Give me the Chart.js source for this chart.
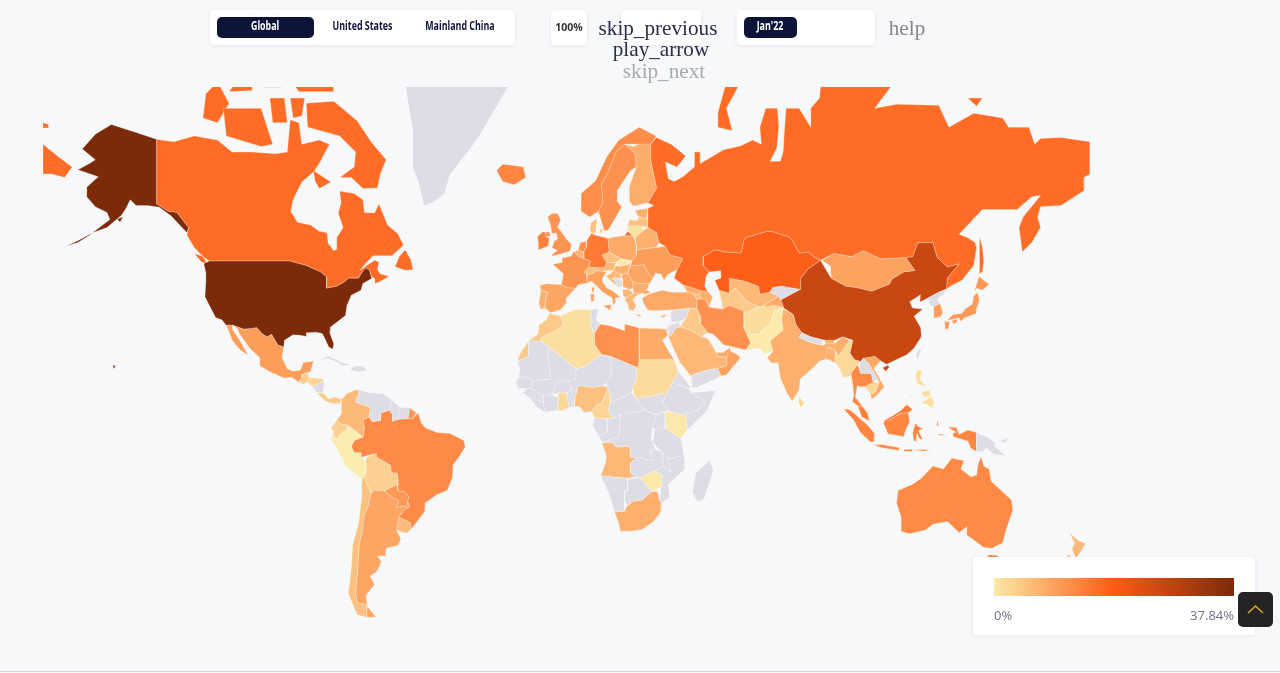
<!DOCTYPE html>
<html><head><meta charset="utf-8">
<script src="https://cdn.jsdelivr.net/npm/chart.js@4"></script>
<style>
html,body{margin:0;padding:0;width:1280px;height:673px;overflow:hidden;background:#f7f8fa}
#map{position:absolute;left:0;top:0}
.panel{position:absolute;background:#fff;border-radius:4px;box-shadow:0 1px 5px rgba(30,35,70,.08)}
.pill{position:absolute;height:21px;line-height:20px;text-align:center;border-radius:5px;font:700 12px "Open Sans",sans-serif;color:#10173c;white-space:nowrap}
.pill span{display:inline-block;transform:scaleX(.74)}
.pill.on{background:#0c1438;color:#fff}
.ic{position:absolute;font-family:"Liberation Serif",serif;font-size:21.2px;line-height:22px;transform:translateX(-50%);white-space:nowrap}
.foot{position:absolute;top:606px;font:13px "Open Sans",sans-serif;color:#6f7284}
</style></head><body>
<canvas id="map" width="1280" height="673"></canvas>
<div class="panel" style="left:210px;top:10px;width:305px;height:35px"></div>
<div class="pill on" style="left:217px;top:17px;width:97px"><span>Global</span></div>
<div class="pill" style="left:318px;top:17px;width:88px"><span>United States</span></div>
<div class="pill" style="left:412px;top:17px;width:95px"><span>Mainland China</span></div>
<div class="panel" style="left:551px;top:10px;width:36px;height:35px"></div>
<div class="pill" style="left:551px;top:17px;width:36px;font:700 10.5px 'Open Sans',sans-serif;line-height:21px;color:#333">100%</div>
<div class="panel" style="left:621px;top:10px;width:80px;height:35px"></div>
<div class="ic" style="left:658px;top:17px;color:#2c2e48">skip_previous</div>
<div class="ic" style="left:661px;top:38px;color:#2c2e48">play_arrow</div>
<div class="ic" style="left:664px;top:60px;color:#a8aab3">skip_next</div>
<div class="panel" style="left:737px;top:10px;width:138px;height:35px"></div>
<div class="pill on" style="left:744px;top:17px;width:53px"><span>Jan'22</span></div>
<div class="ic" style="left:907px;top:17px;color:#85868f">help</div>
<div class="panel" style="left:973px;top:557px;width:282px;height:78px"></div>
<div style="position:absolute;left:994px;top:578px;width:240px;height:18px;background:linear-gradient(90deg,#fbe9a6 0%,#ff5b14 50%,#7b2a0a 100%)"></div>
<div class="foot" style="left:994px">0%</div>
<div class="foot" style="right:46px">37.84%</div>
<div style="position:absolute;left:1238px;top:592px;width:35px;height:35px;background:#242424;border-radius:5px">
<svg width="35" height="35"><polyline points="10,21 17.5,14 25,21" fill="none" stroke="#dba52c" stroke-width="1.6"/></svg></div>
<div style="position:absolute;left:0;top:671px;width:1280px;height:1px;background:#d3d4da"></div>
<script>
// Outlines in [longitude, latitude]
const alaska=[[-141,69.6],[-148,70.4],[-156.5,71.3],[-162,70.2],[-166.5,68.4],[-162,67],[-164,66.5],[-168,65.6],[-161,64.6],[-165,63],[-165,61.5],[-162,59.8],[-158,58.8],[-157,57.5],[-163,55],[-158,56],[-153,58.3],[-151.5,59.5],[-150,61],[-148,60],[-144,60],[-140,59.7],[-136,58.2],[-133,56.5],[-130.5,55],[-130,56],[-134,58.8],[-137,59],[-141,60.3]];
const aleutians=[[-163,55],[-168,53.4],[-172,52.3],[-168,53],[-164,54.5]];
const kodiak=[[-154.5,57.6],[-152.5,58],[-153.5,57]];
const hawaii=[[-156,20.3],[-155,19.7],[-155.7,19]];
const usa48=[[-124.7,48.4],[-122.8,49],[-95.15,49],[-89.5,48],[-84.5,46.5],[-82.5,45.3],[-82.5,42.5],[-79,43],[-76.5,44],[-75,45],[-71.5,45],[-70,46.7],[-69,47.4],[-67.8,47],[-67,44.9],[-70,43.7],[-70.7,42],[-74,40.7],[-75.5,38],[-76,35.2],[-78,33.9],[-81,32],[-81.3,30],[-80,26.8],[-80.4,25.2],[-81.8,26],[-82.8,28],[-84,30],[-86,30.4],[-89.5,30.2],[-89.3,29.1],[-91.5,29.5],[-94,29.6],[-97,28],[-97.2,25.9],[-99.2,26.5],[-101.4,29.8],[-103,29],[-104.7,30],[-106.5,31.8],[-108.2,31.5],[-111,31.3],[-114.8,32.5],[-117.1,32.5],[-118.5,34],[-120.6,34.6],[-122.5,37.5],[-124.3,40.3],[-124,44],[-124,46.3]];
const canadaMain=[[-141,69.6],[-135,69.3],[-128,70],[-120,69.5],[-115,68],[-108,68],[-100,67.8],[-96,68],[-95,71.8],[-92,71.5],[-91,69],[-85,69.5],[-81.5,69],[-85,66.5],[-87,65.3],[-91,63.8],[-94,61],[-94.8,59],[-92.5,57],[-88,56.5],[-85,55.3],[-82.3,55],[-82,52.9],[-80,51.3],[-79,51.6],[-79,54],[-76.8,56],[-78.5,58.7],[-77.5,60.5],[-78,62.4],[-73,62],[-70,61],[-69.5,58.8],[-66,58.7],[-64.5,60.3],[-61.5,56.5],[-58,54.8],[-56,52.5],[-60,50.2],[-66.5,50.2],[-69,48.5],[-71,46.9],[-66,49.2],[-64.5,48.8],[-65,47],[-64,46],[-61,45.5],[-63,44.6],[-65.8,43.6],[-66,45],[-67,45.2],[-67.8,47],[-69,47.4],[-70,46.7],[-71.5,45],[-75,45],[-76.5,44],[-79,43],[-82.5,42.5],[-82.5,45.3],[-84.5,46.5],[-89.5,48],[-95.15,49],[-122.8,49],[-125,50],[-128,52],[-130.5,54.5],[-130,56],[-134,58.8],[-137,59],[-141,60.3]];
const newfoundland=[[-59,47.7],[-55.5,46.9],[-52.8,47],[-53.5,49.3],[-55.5,51.5],[-57.5,50]];
const vancouverIs=[[-128,50.7],[-125,50],[-123.5,48.4],[-125.5,48.8]];
const baffin=[[-80,73.7],[-72,71.7],[-67,69.2],[-62,67],[-64,65],[-65,62.9],[-70,62.8],[-74,64.5],[-78,64.5],[-73,66],[-72.5,68],[-78,70],[-89,71],[-89.5,73.5]];
const victoriaIs=[[-117,70],[-105,68.7],[-101,69],[-105,73],[-118,73]];
const banksIs=[[-125,72],[-120,71.5],[-116,73.5],[-120,75.5],[-124,74.4]];
const devonIs=[[-96,76],[-80,76],[-80,74.6],[-92,74.6]];
const bathurstIs=[[-104,76],[-98,76],[-98,75],[-104,75]];
const melvilleIs=[[-112,76],[-108,76],[-108,74.7],[-116,74.6]];
const somersetIs=[[-95,74],[-90,74],[-91,72.2],[-94,72]];
const princeWalesIs=[[-102,74],[-97,74],[-96,71.5],[-101,71.5]];
const southamptonIs=[[-87,65.5],[-81,63.8],[-85,62.8],[-86.5,64]];
const chukotkaW=[[-180,69],[-175,67.5],[-170,66],[-172.5,64.5],[-177,65],[-180,65]];
const wrangelIs=[[-180,71.5],[-178,71.3],[-178,70.9],[-180,70.9]];
const greenland=[[-56,76],[-53,71],[-53,68.5],[-53,66],[-51,64],[-49,60],[-46,60.5],[-42,62],[-40,65],[-33,68.5],[-30,70],[-25,72.7],[-19,75.5],[-18,76.5],[-30,78],[-50,78]];
const iceland=[[-24,65.5],[-22,63.9],[-18,63.4],[-14,64.5],[-14.8,66],[-18,66.2],[-22,66.4]];
const mexicoMain=[[-114.8,32.5],[-111,31.3],[-108.2,31.5],[-106.5,31.8],[-104.7,30],[-103,29],[-101.4,29.8],[-99.2,26.5],[-97.2,25.9],[-97.8,22.5],[-96,19],[-94,18.2],[-91.5,18.5],[-90.5,21],[-87,21.5],[-88,18],[-89.2,17.8],[-91,17.2],[-91,16],[-92.2,14.6],[-94.5,16.2],[-97,15.9],[-102,18],[-105.5,20],[-105.5,22.5],[-109,25.6],[-112.5,30],[-113.2,31.5]];
const baja=[[-117.1,32.5],[-114.8,32.5],[-114.7,31],[-112,27.5],[-109.5,23.2],[-112.2,25],[-115,28],[-116,30.5]];
const guatemala=[[-92.2,14.6],[-91,16],[-91,17.2],[-89.2,17.8],[-88.3,16],[-89.2,14.5],[-90.5,13.9]];
const honduras=[[-89.2,14.5],[-88.3,16],[-84,15.8],[-83.2,15],[-87,13]];
const nicaragua=[[-87.6,13],[-83.2,15],[-83.7,11],[-85.7,11]];
const panamaCR=[[-85.8,10.9],[-83.7,11],[-82,9],[-79.5,9.6],[-77.3,8.7],[-78,7.3],[-80.5,7.3],[-83,8.2]];
const cuba=[[-85,21.9],[-82,23.1],[-77,21],[-74.2,20.2],[-77.5,19.9],[-78,20.7],[-82,22.3]];
const hispaniola=[[-74.4,18.5],[-73,19.9],[-70,19.8],[-68.4,18.6],[-71,18]];
const colombia=[[-77.3,8.7],[-75.5,10.8],[-72,12.2],[-71.3,11],[-72.5,8],[-70.2,7],[-67.5,6.2],[-67.8,2.8],[-70,1.7],[-69.5,-1],[-70,-4.2],[-72,-2.5],[-75.2,-0.1],[-77.5,0.4],[-79,1.6],[-77.3,4],[-77.5,7]];
const venezuela=[[-72,12.2],[-68,11],[-63,10.7],[-60,8.5],[-61,5.2],[-60.7,5.2],[-64,4],[-64,1.5],[-66.8,1.2],[-67.8,2.8],[-67.5,6.2],[-70.2,7],[-72.5,8],[-71.3,11]];
const guyana=[[-60,8.5],[-57.2,6],[-58,2],[-59.8,1.3],[-59.8,3.5],[-61,5.2]];
const suriname=[[-57.2,6],[-54,5.9],[-54.5,2.3],[-58,2]];
const frGuiana=[[-54,5.9],[-51.7,4.2],[-52.9,2.2],[-54.5,2.3]];
const brazil=[[-60.7,5.2],[-59.8,3.5],[-59.8,1.3],[-58,2],[-54.5,2.3],[-52.9,2.2],[-51,4.2],[-50,0.8],[-48.5,-1],[-44.5,-2.6],[-40,-2.9],[-35.3,-5.3],[-34.8,-7.5],[-37,-11],[-39,-13.5],[-39.2,-17.8],[-41,-22],[-44.5,-23.2],[-48.5,-25.8],[-48.6,-28.3],[-52,-32.2],[-53.4,-33.7],[-53.5,-32],[-55.8,-30.9],[-57.6,-30.2],[-55.8,-28],[-53.8,-27],[-54.6,-25.6],[-54.2,-24],[-55.7,-22.3],[-58,-22],[-57.8,-19],[-58.2,-16.3],[-60.2,-16.2],[-60.5,-13.7],[-65.3,-10.9],[-65.4,-9.7],[-70.5,-11],[-70.6,-9.5],[-73,-9.4],[-74,-7.3],[-72.8,-5.2],[-70,-4.2],[-69.5,-1],[-70,1.7],[-67.8,2.8],[-66.8,1.2],[-64,1.5],[-64,4]];
const ecuador=[[-79,1.6],[-77.5,0.4],[-75.2,-0.1],[-75.5,-1.5],[-78.3,-3.5],[-79,-5],[-80.3,-3.4],[-80,-2.2],[-81,-1]];
const peru=[[-81.2,-4.5],[-80.3,-3.4],[-79,-5],[-78.3,-3.5],[-75.5,-1.5],[-75.2,-0.1],[-72,-2.5],[-70,-4.2],[-72.8,-5.2],[-74,-7.3],[-73,-9.4],[-70.6,-9.5],[-70.5,-11],[-69,-12.5],[-69,-16.2],[-69.5,-17.5],[-70.4,-18.3],[-76,-14],[-79,-8]];
const bolivia=[[-69,-12.5],[-68.7,-11],[-65.4,-9.7],[-65.3,-10.9],[-60.5,-13.7],[-60.2,-16.2],[-58.2,-16.3],[-57.8,-19],[-58.2,-20],[-62.6,-22],[-66.2,-21.8],[-67.2,-22.8],[-68.5,-20],[-69.5,-17.5],[-69,-16.2]];
const paraguay=[[-58.2,-20],[-58,-22],[-55.7,-22.3],[-54.2,-24],[-54.6,-25.6],[-55,-26.8],[-58.6,-27.2],[-57.7,-25.2],[-60,-24],[-62.6,-22]];
const uruguay=[[-57.6,-30.2],[-55.8,-30.9],[-53.5,-32],[-53.4,-33.7],[-55,-34.9],[-58.4,-34],[-58.2,-33]];
const argentina=[[-66.2,-21.8],[-62.6,-22],[-60,-24],[-57.7,-25.2],[-58.6,-27.2],[-55,-26.8],[-54.6,-25.6],[-53.8,-27],[-55.8,-28],[-57.6,-30.2],[-58.2,-33],[-58.4,-34],[-57,-36.3],[-57.7,-38.2],[-62,-39],[-62.3,-41],[-65,-41],[-63.6,-42.5],[-65.3,-45],[-67.5,-46],[-66,-48],[-69,-50.5],[-68.4,-52.4],[-72,-52],[-72.5,-50],[-71.7,-44],[-71.2,-38],[-70,-33.5],[-69.8,-30],[-68.2,-27],[-67.2,-22.8]];
const fuego=[[-68.6,-52.7],[-65.5,-55],[-68.6,-55]];
const chile=[[-70.4,-18.3],[-69.5,-17.5],[-68.5,-20],[-67.2,-22.8],[-68.2,-27],[-69.8,-30],[-70,-33.5],[-71.2,-38],[-71.7,-44],[-72.5,-50],[-72,-52],[-68.4,-52.4],[-68.6,-52.7],[-68.6,-55],[-72,-54.5],[-75,-50],[-74,-44],[-73.5,-38],[-71.5,-32],[-70.5,-25]];
const morocco=[[-5.9,35.8],[-2,35.1],[-1.2,32.5],[-3.5,31],[-8.7,28.7],[-8.7,27.7],[-13,27.7],[-13,23],[-17,21.4],[-16,23.8],[-13,27.8],[-9.8,29.8],[-9.5,32.5],[-7,33.9]];
const algeria=[[-2,35.1],[3,36.9],[8.6,36.9],[8.2,33],[9.5,30],[9.8,26.5],[12,23.5],[6,19.5],[3.3,19],[-4.8,25],[-8.7,27.7],[-8.7,28.7],[-3.5,31],[-1.2,32.5]];
const tunisia=[[8.6,36.9],[11,37],[10.2,34],[11.5,32.8],[9.5,30],[8.2,33]];
const libya=[[11.5,32.8],[15.3,32.2],[20,30.8],[20,32.8],[25,31.6],[25,20],[24,19.5],[15,23],[12,23.5],[9.8,26.5],[9.5,30]];
const egypt=[[25,31.6],[31,31.5],[34.3,31.3],[34.9,29.5],[33,28],[35.5,24],[37,22],[25,22]];
const sudan=[[25,22],[37,22],[38.5,18],[36.5,14.5],[34,10],[33,11],[30,10],[27,9.5],[24,9],[22.5,12.5],[24,15.7],[24,19.5],[25,20]];
const southSudan=[[24,9],[27,9.5],[30,10],[33,11],[34,10],[33,7.7],[35,5],[31,3.7],[28,4.5],[26,6]];
const eritrea=[[36.5,14.5],[38.5,18],[43,12.7],[42,12.5]];
const ethiopia=[[34,10],[36.5,14.5],[42,12.5],[43,11],[47.9,8],[45,5],[42,4],[39.5,3.5],[36,4.5],[35,5],[33,7.7]];
const somalia=[[43,11],[51.2,11.8],[48,4.5],[41.5,-1.7],[41,3.9],[42,4],[45,5],[47.9,8]];
const kenya=[[35,5],[36,4.5],[39.5,3.5],[41,3.9],[41.5,-1.7],[39.3,-4.7],[33.9,-1],[34,4.3]];
const uganda=[[31,3.7],[34,4.3],[33.9,-1],[29.6,-1.4],[30,0.9]];
const tanzania=[[30.5,-1],[33.9,-1],[39.3,-4.7],[40.4,-10.4],[34.9,-11.5],[32.9,-9.3],[29.5,-6]];
const drCongo=[[12.3,-6],[18,-4],[18.6,3.5],[22,4.2],[27,5],[30.8,3.5],[29.6,-1.4],[29,-4.5],[30.5,-8.3],[28.7,-8.7],[29.8,-12.2],[27.5,-12],[25,-11],[22,-11],[21.8,-7.3],[17,-7.5],[16,-6]];
const congo=[[11.2,-4],[12.3,-6],[18,-4],[18.6,3.5],[16,2.2],[14,2.2],[14,-2.3]];
const gabon=[[9,0],[9.8,2.2],[14,2.2],[14,-2.3],[11.2,-4]];
const car=[[14.4,5],[15,7.5],[18.5,9],[22.5,11],[24,9],[26,6],[27,5],[22,4.2],[18.6,3.5],[16,2.2],[15,4]];
const cameroon=[[8.6,4.6],[9.8,2.2],[16,2.2],[15,4],[14.4,5],[15,7.5],[15,10],[14.2,13],[13.5,10.5],[12,7.5],[10.2,6.8]];
const nigeria=[[2.7,6.4],[4.5,6.3],[6,4.3],[8.6,4.6],[10.2,6.8],[12,7.5],[13.5,10.5],[14.2,13],[12,13.3],[9,12.9],[4,13.5],[3.6,11.7],[2.8,9]];
const chad=[[13.5,14],[14.2,13],[15,10],[15,7.5],[18.5,9],[22.5,11],[22.5,12.5],[24,15.7],[24,19.5],[15,23],[15.5,17]];
const niger=[[3.6,11.7],[4,13.5],[9,12.9],[12,13.3],[13.5,14],[15.5,17],[15,23],[12,23.5],[6,19.5],[3.3,19],[3.2,15.5],[0.5,14.9],[2,12]];
const mali=[[-12.2,12.5],[-8,10.2],[-5.5,10.4],[-4.5,11.5],[-3,15],[0.5,14.9],[3.2,15.5],[3.3,19],[-4.8,25],[-6.5,25],[-5.5,15.5],[-11.5,15.2]];
const mauritania=[[-17,21.4],[-13,23],[-13,27.7],[-8.7,27.7],[-4.8,25],[-6.5,25],[-5.5,15.5],[-11.5,15.2],[-14,16.5],[-16.5,16],[-16,19]];
const senegal=[[-16.5,16],[-14,16.5],[-11.5,15.2],[-12.2,12.5],[-16.7,12.4],[-17.5,14.7]];
const guinea=[[-15,11],[-13.7,12.6],[-12.2,12.5],[-8,10.2],[-8,8],[-10,8.5],[-13,9.5]];
const liberia=[[-13,9.5],[-10,8.5],[-8,8],[-7.5,4.4],[-10,6]];
const ivoryCoast=[[-8,10.2],[-5.5,10.4],[-2.8,9.5],[-3,5.1],[-7.5,4.4],[-8,8]];
const burkina=[[-5.5,10.4],[-4.5,11.5],[-3,15],[0.5,14.9],[2,12],[0,11],[-2.8,11]];
const ghana=[[-2.8,11],[0,11],[0.5,8],[1.2,6],[-2,4.8],[-3,5.1],[-2.8,9.5]];
const togoBenin=[[0,11],[2,12],[3.6,11.7],[2.8,9],[2.7,6.4],[1.2,6],[0.5,8]];
const angola=[[12.2,-6],[16,-6],[17,-7.5],[21.8,-7.3],[22,-11],[24,-11],[22,-13],[22,-16.2],[23.4,-17.6],[20.8,-18],[11.8,-17.3],[13.5,-12.5],[13.7,-10.5]];
const zambia=[[22,-13],[24,-11],[25,-11],[27.5,-12],[29.8,-12.2],[28.7,-8.7],[30.5,-8.3],[32.9,-9.3],[33,-11.6],[33.3,-14],[30.2,-15.6],[28,-16.5],[25.3,-17.8],[23.4,-17.6],[22,-16.2]];
const malawi=[[32.9,-9.3],[34.9,-11.5],[35.8,-16],[33.3,-14]];
const mozambique=[[40.4,-10.4],[40.7,-15],[35,-20],[35.5,-24],[32.8,-26],[32,-25],[32.5,-21],[33,-17],[30.2,-15.6],[33.3,-14],[35.8,-16],[34.9,-11.5]];
const zimbabwe=[[25.3,-17.8],[28,-16.5],[30.2,-15.6],[33,-17],[32.5,-21],[29.5,-22.2],[27.5,-20.5]];
const namibia=[[11.8,-17.3],[20.8,-18],[25.3,-17.8],[21,-18.3],[21,-22],[20,-22],[20,-28.4],[16.5,-28.6],[14.5,-22.5]];
const botswana=[[20,-22],[21,-22],[21,-18.3],[25.3,-17.8],[27.5,-20.5],[29.4,-22.2],[26,-25],[23,-25.3],[20.8,-26.8],[20,-25]];
const southAfrica=[[16.5,-28.6],[20,-28.4],[20.8,-26.8],[23,-25.3],[26,-25],[29.4,-22.2],[31.3,-22.4],[32,-25],[32.8,-26],[32.5,-28.5],[30,-31.5],[26,-33.8],[22,-34.3],[18.5,-34.3],[18,-32]];
const lesotho=[[27,-29.6],[28.8,-28.7],[29.4,-29.7],[28,-30.6]];
const eswatini=[[31,-25.8],[32,-26],[32,-27],[31,-27]];
const madagascar=[[49.3,-12],[50.5,-15.5],[47.2,-24.9],[45,-25.5],[43.3,-22.5],[44.5,-16.3]];
const yemen=[[43.2,12.7],[45,12.9],[52,16],[53,16.6],[52,19],[49,18.7],[44,17.3],[42.8,16.5]];
const oman=[[52,19],[53,16.6],[55,17],[59.8,22.5],[58.5,23.7],[56.5,24.5],[56,26],[55.2,22.7],[55,20]];
const uae=[[51.5,24.2],[54,24.2],[56.3,26],[56,24],[55.2,22.7],[52,23]];
const saudi=[[34.9,29.5],[37.5,31.5],[39,32],[42,31.2],[46.5,29],[48.5,28.5],[50,26.5],[51.5,24.2],[52,23],[55.2,22.7],[55,20],[52,19],[49,18.7],[44,17.3],[42.8,16.5],[39,21],[36.5,26]];
const iraq=[[39,32],[41,34.4],[42.3,37.2],[44.8,37.2],[46,35],[46,33],[48.5,30.2],[47.8,30],[46.5,29],[42,31.2]];
const syria=[[36,33.3],[35.8,36],[36.5,36.7],[42.3,37.2],[41,34.4],[38.8,33.4]];
const jordan=[[35,29.5],[35.5,32.5],[38.8,33.4],[39,32],[37.5,31.5],[36,29.2]];
const israel=[[34.3,31.3],[35.8,33.5],[35.5,32.5],[35,29.5]];
const iran=[[44.8,39.7],[48,39.5],[49,37.5],[53.8,37],[56,38],[61,36.5],[61,31.5],[63.3,27.2],[61.5,25],[57,26],[54,26.6],[50.5,29.8],[48.5,30.2],[46,33],[46,35],[44.8,37.2]];
const turkey=[[26,40],[26.5,38.5],[28,36.7],[30.5,36.5],[36,36.8],[36.5,36.7],[42.3,37.2],[44.8,37.2],[44.8,39.7],[43.5,41.1],[41.5,41.5],[36,41.5],[33,42],[29,41.2]];
const thrace=[[26,41],[28.9,41.2],[28,42],[26.5,41.8]];
const cyprus=[[32.4,35],[34.5,35.6],[33.7,34.8],[32.8,34.6]];
const georgia=[[40,43.4],[46.5,41.8],[45.5,41],[43.5,41.1],[41.5,41.5]];
const armenia=[[43.5,41.1],[45.5,41],[46.5,39],[44.8,39.7]];
const azerbaijan=[[45.5,41],[46.5,41.8],[48.5,41.8],[50.3,40.3],[49,37.5],[48,39.5],[46.5,39]];
const kazakhstan=[[47,48],[49,46.5],[53,46.8],[53,45],[51,44.5],[52.5,42],[55.9,41.3],[56,45],[61,44.3],[66,43],[66.5,41],[70,41.5],[71,42.7],[74,43],[80.3,42.2],[80.5,45],[83,47.2],[87.3,49.2],[85,50],[83.3,51],[80,50.8],[77.8,53.3],[76.5,54.2],[71,55.2],[69,55.3],[61.5,54],[61,53.5],[60,50.8],[55,51],[51,51.5],[47,50]];
const russia=[[30.9,69.8],[36,69],[41,67.5],[38,66],[34,66.7],[35,64.3],[37,63.9],[40,64.6],[44,66],[44,68],[46,68],[46,66.5],[54,68.3],[60,68.8],[64,69.5],[67,69],[66.5,71],[68.5,73],[72.5,73],[73,71],[72.3,68.5],[70,66.8],[73.5,66.8],[74.5,68],[75,71],[75.5,73],[80,73],[84,71],[84,73],[87,74],[87.5,75.5],[98,76.5],[108,77],[112,75.2],[106,73],[113.5,73.4],[128,73.3],[131.5,71],[140,72.5],[150,72],[152,71],[159,71],[161,69],[163,69.7],[170,69.8],[180,69.3],[180,65],[178,64.5],[178,62.5],[170,60],[163,59.8],[162,58],[163,56],[160,53],[156.7,51],[155.6,56],[157,58],[163,61.7],[160,61.5],[155,59.3],[143,59.3],[135,54.7],[138,54],[140.5,53],[141,52],[140,48],[136,44.5],[132,43],[130.7,42.3],[131,45],[135,48.4],[131,47.7],[127.5,49.8],[126,53],[120.8,53],[119,50],[116.7,49.8],[108,49.5],[102,51.3],[98,50],[92,50.7],[87.3,49.2],[85,50],[83.3,51],[80,50.8],[77.8,53.3],[76.5,54.2],[71,55.2],[69,55.3],[61.5,54],[61,53.5],[60,50.8],[55,51],[51,51.5],[47,50],[47,48],[49,46.5],[48,45.5],[47.5,43],[48.5,41.8],[46.5,41.8],[40,43.4],[37,45],[38,47],[40,49.6],[35.5,50.4],[34,52.2],[31.7,53],[31,55],[28,56],[28,59.5],[30,60],[28,60.5],[31,62.9],[29,66.9],[29,69]];
const novayaZemlya=[[52,71],[57,70.6],[55,73],[60,75.5],[55,75.5],[52,72.5]];
const sakhalin=[[142,54.3],[143,52],[143.5,49],[143,46.5],[142,46],[142,50]];
const kaliningrad=[[20,54.4],[22.8,54.4],[21,55.3]];
const lyakhovsky=[[138,74],[143,74],[141,73.2]];
const mongolia=[[87.8,49.2],[92,50.7],[98,50],[102,51.3],[108,49.5],[116.7,49.8],[119.9,46.8],[116,46.5],[112,44.8],[111,43.5],[105,41.7],[100,42.6],[96,43],[91,45],[90.8,47.8]];
const china=[[73.7,39.5],[80.3,42.2],[80.5,45],[83,47.2],[87.3,49.2],[91,45],[96,43],[100,42.6],[105,41.7],[111,43.5],[112,44.8],[116,46.5],[119.9,46.8],[116.7,49.8],[119,50],[120.8,53],[126,53],[127.5,49.8],[131,47.7],[135,48.4],[131,45],[130.7,42.3],[128,41.5],[124.3,40],[121.5,38.9],[121.7,40.8],[118,39],[119,37.3],[122.5,37],[119.5,35],[121.8,31.7],[122,29],[119.5,25.5],[117,23.5],[113.5,22],[110,20.4],[108,21.6],[106,23],[102,22.4],[101.2,21.3],[99,22],[97.5,24],[98.5,28],[95,29],[92,27.9],[88.8,28],[84,29],[81,30.2],[79,32.5],[78,35.5],[74.8,37.2]];
const hainan=[[108.7,19.3],[110.5,20.1],[111,19.5],[109.7,18.2]];
const india=[[74.5,37],[78,35.5],[79,32.5],[81,30.2],[80,28.8],[84,27.3],[88,26.4],[89,26.8],[92,26.9],[95,29],[97.3,28],[95,25],[93.5,23],[92.4,25],[89.8,25.8],[89,22],[87,21.4],[85,19.5],[80.3,15.5],[80,12],[77.6,8.1],[76,10.5],[73.5,16],[72.7,21],[70.5,20.8],[69,22.5],[71,24.5],[70,27.8],[74.5,31],[74,34]];
const nepal=[[80,28.8],[81,30.2],[84,29],[88,28],[88,26.4],[84,27.3]];
const pakistan=[[74.5,37],[74,34],[74.5,31],[70,27.8],[71,24.5],[68,23.8],[66.5,25.4],[61.5,25],[63.3,27.2],[61,29.5],[66,29.8],[70,33],[71.5,36.5]];
const afghanistan=[[61,31.5],[61,35.5],[65,37.3],[71.5,38],[74.8,37.3],[71.5,36.5],[70,33],[66,29.8],[61,29.5]];
const turkmenistan=[[53.8,37],[53,40],[52.5,42],[55.9,41.3],[58,42.5],[62,39],[66.5,37.5],[65,37.3],[61,35.5],[61,36.5],[56,38]];
const uzbekistan=[[55.9,41.3],[56,45],[61,44.3],[66,43],[66.5,41],[70,41.5],[73,40.5],[68,38],[66.5,37.5],[62,39],[58,42.5]];
const kyrgyzstan=[[70,41.5],[71,42.7],[74,43],[80.3,42.2],[73.7,39.5],[73,40.5]];
const tajikistan=[[68,38],[73,40.5],[73.7,39.5],[74.8,37.3],[71.5,38],[68,37]];
const bangladesh=[[89,26],[92.4,25],[92.3,21],[90,22],[89,22]];
const bhutan=[[89,26.8],[92,26.9],[92,27.9],[88.8,28]];
const myanmar=[[92.3,21],[92.4,25],[93.5,23],[95,25],[97.3,28],[98.5,28],[97.5,24],[99,22],[101.2,21.3],[100,20.3],[97.8,17.5],[98.5,13],[98.7,10],[97.6,16.5],[95,16],[94.3,18.5]];
const thailand=[[100,20.3],[100.5,19.5],[101.2,17.5],[104.8,17.5],[105.5,14.5],[102.5,13],[101,13],[100,13.5],[99.3,9.5],[102,6.2],[100.2,6.5],[98.3,8],[98.7,10],[98.5,13],[97.8,17.5]];
const laos=[[101.2,21.3],[102,22.4],[104,20.5],[107,15.5],[105.5,14.5],[104.8,17.5],[101.2,17.5],[100.5,19.5]];
const cambodia=[[102.5,13],[105.5,14.5],[107.5,14.5],[106,11],[104.5,10.5]];
const vietnam=[[102,22.4],[106,23],[108,21.6],[105.7,19],[109.3,13],[107,10.4],[105,8.7],[104.5,10.5],[106,11],[107.5,14.5],[107,15.5],[104,20.5]];
const malayaPen=[[100.2,6.5],[102,6.2],[103.5,4],[104.2,1.4],[101.5,2.8]];
const malaysiaBorneo=[[109.6,2],[111,1.7],[115,4],[117.5,4.2],[119,5.3],[117,7],[115,5],[111.3,2.7]];
const kalimantan=[[109,0.5],[109.6,2],[111,1.7],[115,4],[117.5,4.2],[118,1],[116.5,-2],[116,-4],[110.5,-3],[109.5,-0.5]];
const sumatra=[[95.3,5.6],[97.5,5.2],[103.5,0],[106,-3],[105.8,-5.8],[104.5,-5.8],[101,-2.5],[98.7,1.7]];
const java=[[105.3,-6.8],[108.5,-6.7],[114.5,-7.8],[114.5,-8.7],[108.5,-7.8]];
const sumbawa=[[116,-8.4],[119,-8.3],[119,-9],[116,-9]];
const flores=[[119,-8.5],[125,-8.4],[123,-9]];
const timor=[[123.5,-10.3],[127,-8.4],[125,-9.5]];
const sulawesi=[[119.8,0.3],[125,1.5],[121,0.5],[120.3,0],[122,-1],[123,-1],[121,-2],[122.5,-5],[121.5,-4.8],[120.5,-3],[120.4,-5.6],[119.5,-5.5],[119,-3]];
const halmahera=[[127.5,1.8],[128,-0.5],[127.3,0]];
const seram=[[128,-3],[130.8,-3.5],[128,-3.5]];
const papua=[[131,-0.8],[134,-0.8],[135,-3.3],[138,-1.7],[141,-2.6],[141,-9.1],[139,-8],[138,-5.5],[133,-4],[132.8,-2.8],[134,-2.5]];
const png=[[141,-2.6],[145,-4.3],[147.8,-6.5],[147,-7],[150.8,-10.5],[147,-10],[144.5,-7.7],[143,-9.2],[141,-9.1]];
const newBritain=[[148.5,-5.7],[152,-4.3],[151,-6]];
const luzon=[[120.5,18.5],[122.3,18.4],[121.5,15.5],[124,13],[120.7,14],[120,16]];
const visayas=[[122,11],[125,12],[125.3,10],[123,9.5]];
const mindanao=[[122,7.5],[125.5,9.8],[126.5,7.5],[125.5,5.8],[124,7]];
const palawan=[[117.3,8.4],[119.5,11.3],[119,10]];
const taiwan=[[121,25.2],[122,25],[120.8,22],[120.1,23]];
const honshu=[[130.9,34],[133,35.5],[136,35.8],[137,37],[139.5,38.3],[140,40.5],[141.3,41.4],[142,39.5],[141,37],[140.8,35.7],[137,34.6],[135.5,33.5],[135,34.6],[132,34]];
const kyushu=[[130,33.5],[131.7,33.5],[131.3,31.3],[130.2,31.3]];
const shikoku=[[132.5,33.8],[134.5,34.2],[134.2,33.3],[133,32.8]];
const hokkaido=[[140.2,41.6],[141.8,45.4],[145.3,43.5],[143,42],[141,42.5]];
const southKorea=[[126.3,37.7],[128.4,38.6],[129.4,36],[128.5,34.8],[126.3,34.5]];
const northKorea=[[124.3,40],[128,41.5],[130.7,42.3],[129.7,41],[127.5,39.7],[128.4,38.6],[126.3,37.7],[125,38]];
const sriLanka=[[80,9.7],[81.8,7.5],[80.5,6],[79.8,8]];
const australia=[[114,-22],[113.5,-26],[115,-30],[115,-34.3],[118,-35],[123.5,-33.9],[126,-32.3],[131,-31.5],[135,-34.7],[137.7,-33],[137.5,-35.3],[139.7,-36.5],[143.5,-38.8],[146.3,-39],[150,-37.5],[151.2,-33.8],[153.5,-28],[153,-25],[149.5,-22],[146,-19],[145.3,-15],[143.5,-14],[142.5,-10.8],[141.5,-13.5],[141,-17],[139,-17.5],[135.6,-15],[136.7,-12.2],[132.5,-11.3],[129.6,-15],[126,-14],[122,-18],[119,-20]];
const tasmania=[[144.7,-40.7],[148.3,-40.9],[148,-43],[146,-43.6]];
const nzNorth=[[172.8,-34.5],[175.5,-36.7],[178.5,-37.7],[177,-39.7],[175.2,-41.6],[173.8,-39.3],[174.7,-37.5]];
const nzSouth=[[172.7,-40.6],[174.2,-41.7],[171,-44.5],[170,-46.3],[166.5,-46],[170,-43]];
const norway=[[5,59],[5,62],[10,64],[14,67.5],[18,69.5],[25,71],[30.9,70],[29,69],[25,69],[20,69],[17,68],[14.5,65.5],[12,63.5],[12.5,60.5],[11,59],[8,58]];
const sweden=[[11,59],[12.5,60.5],[12,63.5],[14.5,65.5],[17,68],[20,69],[23.7,67.8],[24,66],[22,65.5],[17.5,62.5],[17.5,60.7],[19,59.8],[16.5,57.5],[14.3,55.5],[13,55.4],[11.8,57.5]];
const finland=[[20,69],[23.7,67.8],[24,66],[21.5,63],[21.5,60.8],[23,59.9],[28,60.5],[31,62.9],[29,66.9],[29,69],[28,70],[25,69],[23,68.7]];
const jutland=[[8.5,57],[10.5,57.7],[10,55],[8.6,54.9],[8,55.6]];
const zealand=[[11.5,55.8],[12.5,55.6],[11.8,54.8]];
const greatBritain=[[-5,58.6],[-3,58.6],[-2,57.5],[-3,56],[-1.5,55],[0,53.7],[1.7,52.7],[1.3,51.2],[-2,50.6],[-5.5,50],[-3.2,51.4],[-5,51.9],[-4.2,53.3],[-3,53.8],[-3.5,54.9],[-5,54.9],[-5.5,56.5],[-6.5,58]];
const nIreland=[[-7.3,55.1],[-6,55.2],[-5.5,54.4],[-7,54.2]];
const ireland=[[-10,54.2],[-8.2,55.2],[-7.3,55.1],[-7,54.2],[-6,54],[-6.2,52.3],[-9.5,51.5],[-9.7,53]];
const france=[[-1.8,43.4],[-1,46],[-4.7,48.3],[-1.5,48.7],[-1.5,49.7],[1.5,50.1],[2.5,51.1],[4.2,50],[6,49.5],[8.2,49],[7.6,47.6],[6,46.4],[7,45.9],[7,44.2],[7.5,43.8],[4,43.4],[3.1,42.5],[0,42.7]];
const corsica=[[8.7,42.5],[9.5,43],[9.4,41.5],[8.9,41.5]];
const spain=[[-9.2,43.2],[-7,43.6],[-1.8,43.4],[0,42.7],[3.1,42.5],[0,40],[0,38.7],[-2,36.8],[-5.5,36],[-7.3,37.2],[-7.3,38.5],[-7,39.7],[-6.5,41.5],[-8.8,42]];
const portugal=[[-8.8,42],[-6.5,41.5],[-7,39.7],[-7.3,38.5],[-7.3,37.2],[-9,37],[-9.5,38.8]];
const belgium=[[2.5,51.1],[4,51.4],[5.8,51],[6,49.5],[4.2,50]];
const netherlands=[[4,51.4],[4.8,53],[7,53.3],[6.8,52],[5.8,51]];
const germany=[[5.8,51],[6.8,52],[7,53.5],[8.6,54.9],[10,54.5],[14.2,53.9],[14.7,51],[12.2,50.3],[13.8,48.7],[13,47.5],[7.6,47.6],[8.2,49],[6,49.5]];
const switzerland=[[6,46.4],[7.6,47.6],[9.6,47.5],[10.4,46.8],[8.5,46],[7,45.9]];
const austria=[[9.6,47.5],[13,47.5],[13.8,48.7],[17,48.7],[16.2,46.9],[12,46.7],[10.4,46.8]];
const italy=[[7,45.9],[8.5,46],[10.4,46.8],[12,46.7],[13.7,46.5],[12.4,45],[12.5,44],[14,42.5],[16,41.8],[18.5,40.2],[16.8,40],[17,39],[16,38],[15.7,40],[12.5,41.5],[10.5,43],[8.5,44.3],[7.5,43.8],[7,44.2]];
const sicily=[[12.5,38],[15.5,38.2],[15,36.7]];
const sardinia=[[8.2,41],[9.7,41],[9.5,39.2],[8.5,39]];
const poland=[[14.2,53.9],[19,54.4],[23,54.3],[24,52.5],[24,50.5],[22.5,49.1],[19,49.5],[14.7,51]];
const czechia=[[12.2,50.3],[14.7,51],[18.8,49.5],[17,48.7],[13.8,48.7]];
const slovakia=[[17,48.7],[18.8,49.5],[22.5,49.1],[22,48.4],[18,47.8]];
const hungary=[[16.2,46.9],[17,48],[18,47.8],[22,48.4],[21,46.2],[18.5,45.9]];
const romania=[[21,46.2],[22,48],[24.5,47.9],[26.5,48.2],[28.2,46],[29.7,45],[28.6,43.7],[25,43.7],[22.7,44.2]];
const bulgaria=[[22.7,44.2],[25,43.7],[28.6,43.7],[27.6,42],[26.2,41.3],[23,41.3]];
const serbia=[[18.9,45.9],[21,46.2],[22.7,44.2],[23,42.5],[21.5,42.2],[19.3,43],[19.2,44.8]];
const bosnia=[[15.8,45.1],[19.2,44.8],[19.3,43],[18,42.7]];
const croatia=[[13.6,45.5],[15,46],[16.2,46.9],[18.5,45.9],[19,45],[15.8,45.1],[18,42.7],[15,44.5]];
const albaniaMk=[[19.3,42.2],[21.5,42.2],[23,41.3],[20.5,40],[19.5,40.5]];
const greece=[[20,39.5],[20.5,40],[23,41.3],[26.2,41.3],[24,40.5],[22.8,39.5],[24,38],[23,36.5],[21.5,36.8],[21,38.5]];
const crete=[[23.6,35.6],[26.2,35.3],[24.8,34.9]];
const ukraine=[[22.5,49.1],[24,50.5],[24,51.5],[31,52],[34,52.2],[35.5,50.4],[40,49.6],[38,47],[35,46],[33.5,44.5],[32.5,46],[30.5,46.2],[29.7,45],[28.2,46],[26.5,48.2],[24.5,47.9],[22,48]];
const moldova=[[26.6,48.3],[29,48],[30,46.4],[28.2,45.6]];
const belarus=[[24,52.5],[23.5,53.9],[26.5,55.5],[28,56],[31,55],[31.7,53],[31,52],[24,51.5]];
const lithuania=[[21,55.5],[21,56.3],[26,56.3],[26.5,55.5],[23.5,53.9],[22.8,54.4]];
const latvia=[[21,56.3],[21.7,57.5],[24.4,57.3],[25,58],[28,57.5],[28,56],[26,56.3]];
const estonia=[[23.5,59.2],[28,59.5],[27.5,57.6],[25,58],[24.4,58.3]];

// Country, share in percent (null = no data), outlines
const mapTable=[
['Greenland',null,[greenland]],['Cuba',null,[cuba]],['Hispaniola',null,[hispaniola]],['Nicaragua',null,[nicaragua]],['Venezuela',null,[venezuela]],['Guyana',null,[guyana]],['Suriname',null,[suriname]],
['Tunisia',null,[tunisia]],['South Sudan',null,[southSudan]],['Eritrea',null,[eritrea]],['Ethiopia',null,[ethiopia]],['Somalia',null,[somalia]],['Uganda',null,[uganda]],['Tanzania',null,[tanzania]],['DR Congo',null,[drCongo]],['Congo',null,[congo]],['Gabon',null,[gabon]],['CAR',null,[car]],['Chad',null,[chad]],['Niger',null,[niger]],['Mali',null,[mali]],['Mauritania',null,[mauritania]],['Senegal',null,[senegal]],['Guinea',null,[guinea]],['Liberia',null,[liberia]],['Ivory Coast',null,[ivoryCoast]],['Burkina Faso',null,[burkina]],['Togo and Benin',null,[togoBenin]],['Zambia',null,[zambia]],['Malawi',null,[malawi]],['Mozambique',null,[mozambique]],['Namibia',null,[namibia]],['Botswana',null,[botswana]],['Madagascar',null,[madagascar]],
['Yemen',null,[yemen]],['Syria',null,[syria]],['Jordan',null,[jordan]],['Israel',null,[israel]],['Nepal',null,[nepal]],['Laos',null,[laos]],['Kyrgyzstan',null,[kyrgyzstan]],['North Korea',null,[northKorea]],['Taiwan',null,[taiwan]],['Papua New Guinea',null,[png,newBritain]],['Bosnia',null,[bosnia]],
['United States',37.84,[usa48,alaska,aleutians,kodiak,hawaii]],['Canada',16.8,[canadaMain,newfoundland,vancouverIs,baffin,victoriaIs,banksIs,devonIs,bathurstIs,melvilleIs,somersetIs,princeWalesIs,southamptonIs]],
['Russia',16.8,[russia,chukotkaW,wrangelIs,novayaZemlya,sakhalin,kaliningrad,lyakhovsky]],['Kazakhstan',18.5,[kazakhstan]],['China',26.7,[china,hainan]],['Mongolia',9.8,[mongolia]],
['Iceland',13.5,[iceland]],['Mexico',10.5,[mexicoMain,baja]],['Guatemala',4.5,[guatemala]],['Honduras',3.5,[honduras]],['Panama and Costa Rica',5,[panamaCR]],
['Colombia',7,[colombia]],['French Guiana',11.5,[frGuiana]],['Brazil',13,[brazil]],['Ecuador',4,[ecuador]],['Peru',0.4,[peru]],['Bolivia',4,[bolivia]],['Paraguay',11,[paraguay]],['Uruguay',6.5,[uruguay]],['Argentina',9.5,[argentina,fuego]],['Chile',6,[chile]],
['Morocco',5,[morocco]],['Algeria',2.2,[algeria]],['Libya',12,[libya]],['Egypt',8.8,[egypt]],['Sudan',2.8,[sudan]],['Kenya',1,[kenya]],['Cameroon',3.5,[cameroon]],['Nigeria',6,[nigeria]],['Ghana',3,[ghana]],['Angola',7.2,[angola]],['Zimbabwe',1,[zimbabwe]],['South Africa',8.2,[southAfrica]],['Lesotho',null,[lesotho]],['Eswatini',null,[eswatini]],
['Oman',10,[oman]],['UAE',9,[uae]],['Saudi Arabia',7.2,[saudi]],['Iraq',5,[iraq]],['Iran',12,[iran]],['Turkey',9,[turkey,thrace]],['Cyprus',8,[cyprus]],['Georgia',8,[georgia]],['Armenia',6,[armenia]],['Azerbaijan',8,[azerbaijan]],
['India',8.3,[india]],['Pakistan',0.8,[pakistan]],['Afghanistan',2.5,[afghanistan]],['Turkmenistan',5,[turkmenistan]],['Uzbekistan',7,[uzbekistan]],['Tajikistan',9,[tajikistan]],['Bangladesh',8,[bangladesh]],['Bhutan',8,[bhutan]],['Myanmar',3,[myanmar]],['Thailand',13,[thailand]],['Cambodia',3,[cambodia]],['Vietnam',9,[vietnam]],
['Malaysia',14.5,[malayaPen,malaysiaBorneo]],['Indonesia',13.5,[kalimantan,sumatra,java,sumbawa,flores,timor,sulawesi,halmahera,seram,papua]],['Philippines',2.5,[luzon,visayas,mindanao,palawan]],['Japan',11,[honshu,kyushu,shikoku,hokkaido]],['South Korea',10.5,[southKorea]],['Sri Lanka',3.5,[sriLanka]],
['Australia',13,[australia,tasmania]],['New Zealand',7,[nzNorth,nzSouth]],
['Norway',12.5,[norway]],['Sweden',12,[sweden]],['Finland',8.5,[finland]],['Denmark',6,[jutland,zealand]],['United Kingdom',11.5,[greatBritain,nIreland]],['Ireland',14,[ireland]],['France',11.5,[france,corsica]],['Spain',9.5,[spain]],['Portugal',8,[portugal]],['Belgium',8,[belgium]],['Netherlands',12,[netherlands]],['Germany',15,[germany]],['Switzerland',6,[switzerland]],['Austria',7,[austria]],['Italy',10,[italy,sicily,sardinia]],['Poland',9,[poland]],['Czechia',6,[czechia]],['Slovakia',1,[slovakia]],['Hungary',8,[hungary]],['Romania',9.5,[romania]],['Bulgaria',8.5,[bulgaria]],['Serbia',9,[serbia]],['Croatia',7,[croatia]],['Albania and North Macedonia',7,[albaniaMk]],['Greece',7,[greece,crete]],['Ukraine',10.5,[ukraine]],['Moldova',3,[moldova]],['Belarus',8,[belarus]],['Lithuania',2,[lithuania]],['Latvia',6,[latvia]],['Estonia',8,[estonia]]
];
const maxShare=37.84;
const latOf=m=>(2*Math.atan(Math.exp(m))-Math.PI/2)*180/Math.PI;
const merc=lat=>Math.log(Math.tan(Math.PI/4+lat*Math.PI/360));
class MercatorScale extends Chart.LinearScale{
  getPixelForValue(v){
    const a=merc(this.min),b=merc(this.max);
    return this.getPixelForDecimal((merc(v)-a)/(b-a));
  }
}
MercatorScale.id='mercator';
MercatorScale.defaults=Chart.LinearScale.defaults;
Chart.register(MercatorScale);
function ramp(v){
  if(v===null)return '#dcdde5';
  const s=[[251,240,178],[255,91,20],[123,42,10]],t=Math.min(1,v/maxShare)*2,i=t>=1?1:0,f=t-i;
  const c=s[i].map((q,k)=>Math.round(q+(s[i+1][k]-q)*f));
  return `rgb(${c[0]},${c[1]},${c[2]})`;
}
const datasets=[];
mapTable.forEach(([name,share,parts])=>parts.forEach(p=>{
  datasets.push({label:name,data:p.concat([p[0]]).map(([x,y])=>({x,y})),showLine:true,fill:'shape',
    backgroundColor:ramp(share),borderColor:'rgba(255,255,255,.45)',borderWidth:0.6,pointRadius:0,tension:0});
}));
new Chart(document.getElementById('map'),{type:'scatter',data:{datasets},options:{
  responsive:false,animation:false,devicePixelRatio:1,
  layout:{padding:{left:43,right:190,top:87,bottom:33}},
  plugins:{legend:{display:false},tooltip:{enabled:false}},events:[],
  scales:{x:{type:'linear',display:false,min:-180,max:180},
          y:{type:'mercator',display:false,min:latOf(-215/166.6),max:latOf(338/166.6)}}
}});
</script>
</body></html>
